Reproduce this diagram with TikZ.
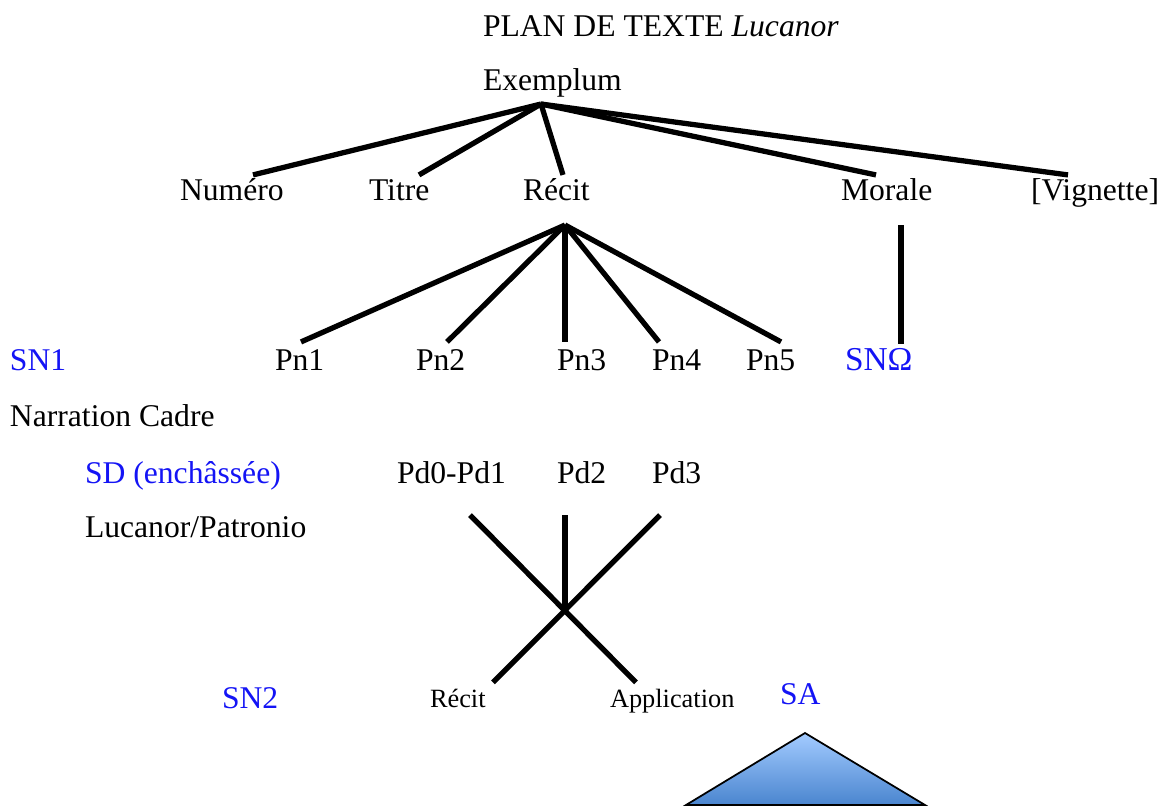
\documentclass[tikz,border=0pt]{standalone}
\usepackage{fontspec}
\setmainfont{Liberation Serif}
\usepackage{tikz}
\usetikzlibrary{positioning}
\usepackage{xcolor}
\definecolor{seqblue}{HTML}{1414F5}
\definecolor{triTop}{HTML}{A3CBFF}
\definecolor{triBot}{HTML}{4A85CF}

\begin{document}
\begin{tikzpicture}[x=0.02cm, y=-0.02cm, font=\fontsize{18}{21}\selectfont,
    lbl/.style={inner sep=0pt, outer sep=0pt, anchor=base west, text height=12pt, text depth=4pt},
    sml/.style={lbl, font=\fontsize{15}{18}\selectfont, text height=10pt},
    seq/.style={lbl, text=seqblue},
    branch/.style={line width=3pt}]
  \useasboundingbox (0,0) rectangle (1163,806);

  % top of the plan
  \node[lbl] (title) at (483,36) {PLAN DE TEXTE \textit{Lucanor}};
  \node[lbl] (exemplum) at (483,90) {Exemplum};
  \node[lbl] (numero) at (180,200) {Numéro};
  \node[lbl] (titre) at (369,200) {Titre};
  \node[lbl] (recit) at (523,200) {Récit};
  \node[lbl] (morale) at (841,200) {Morale};
  \node[lbl] (vignette) at (1031,200) {[Vignette]};

  % narrative level
  \node[seq] (sn1) at (10,370) {SN1};
  \node[lbl] (pn1) at (275,370) {Pn1};
  \node[lbl] (pn2) at (416,370) {Pn2};
  \node[lbl] (pn3) at (557,370) {Pn3};
  \node[lbl] (pn4) at (652,370) {Pn4};
  \node[lbl] (pn5) at (746,370) {Pn5};
  \node[seq, font=\fontsize{19}{21}\selectfont] (snomega) at (845,370) {SNΩ};
  \node[lbl] (cadre) at (10,426) {Narration Cadre};

  % dialogue level
  \node[seq] (sd) at (85,483) {SD (enchâssée)};
  \node[lbl] (pd01) at (397,483) {Pd0-Pd1};
  \node[lbl] (pd2) at (557,483) {Pd2};
  \node[lbl] (pd3) at (652,483) {Pd3};
  \node[lbl] (lucpat) at (85,537) {Lucanor/Patronio};

  % embedded narration
  \node[seq] (sn2) at (222,708) {SN2};
  \node[sml] (recitb) at (430,707) {Récit};
  \node[sml] (appl) at (610,707) {Application};
  \node[seq] (sa) at (780,704) {SA};

  \coordinate (exroot) at ([shift={(58,7)}]exemplum.south west);
  \coordinate (recitroot) at ([shift={(42,18)}]recit.south west);
  \coordinate (cross) at (565,610);

  \draw[branch] ([shift={(73,-4)}]numero.north west) -- (exroot);
  \draw[branch] ([shift={(50,-4)}]titre.north west) -- (exroot);
  \draw[branch] ([shift={(40,-4)}]recit.north west) -- (exroot);
  \draw[branch] ([shift={(35,-4)}]morale.north west) -- (exroot);
  \draw[branch] ([shift={(37,-4)}]vignette.north west) -- (exroot);

  \draw[branch] (recitroot) -- ([shift={(26,-7)}]pn1.north west);
  \draw[branch] (recitroot) -- ([shift={(31,-7)}]pn2.north west);
  \draw[branch] (recitroot) -- ([shift={(8,-7)}]pn3.north west);
  \draw[branch] (recitroot) -- ([shift={(7,-7)}]pn4.north west);
  \draw[branch] (recitroot) -- ([shift={(35,-7)}]pn5.north west);

  \draw[branch] ([shift={(60,18)}]morale.south west) -- ([shift={(56,-5)}]snomega.north west);

  \draw[branch] ([shift={(73,25)}]pd01.south west) -- ([shift={(26,-7)}]appl.north west);
  \draw[branch] ([shift={(8,25)}]pd3.south west) -- ([shift={(63,-7)}]recitb.north west);
  \draw[branch] ([shift={(8,25)}]pd2.south west) -- (cross);

  % triangle under SA
  \draw[line width=1pt, top color=triTop, bottom color=triBot]
    (805,733) -- (925,805) -- (686,805) -- cycle;
\end{tikzpicture}
\end{document}
